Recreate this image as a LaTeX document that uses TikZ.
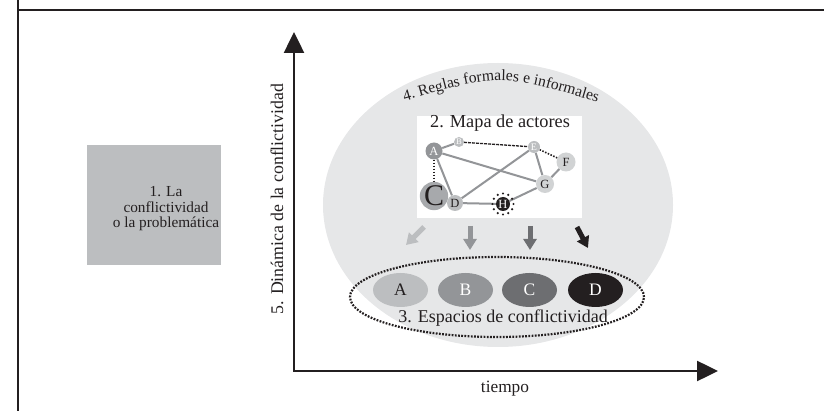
\documentclass[tikz,border=0pt]{standalone}
\usepackage{fontspec}
\setmainfont{Liberation Serif}
\usetikzlibrary{arrows.meta,decorations.text,shapes.geometric}
\definecolor{txt}{HTML}{231F20}
\definecolor{g1}{HTML}{BCBEC0}
\definecolor{g2}{HTML}{939598}
\definecolor{g3}{HTML}{6D6E71}
\definecolor{g0}{HTML}{D1D3D4}
\definecolor{gC}{HTML}{A7A9AC}
\definecolor{bgell}{HTML}{E6E7E8}
\pgfdeclarelayer{bg}
\pgfdeclarelayer{edges}
\pgfsetlayers{bg,edges,main}
\tikzset{
  frameline/.style={line width=1.5pt, draw=txt},
  axisline/.style={line width=2.5pt, draw=txt, line join=miter,
    {Triangle[width=20pt,length=21pt]}-{Triangle[width=20pt,length=21pt]}},
  lbl/.style={text=txt, font=\fontsize{16.2}{16}\selectfont, inner sep=0pt},
  actor/.style={circle, inner sep=0pt, text=txt, font=\fontsize{12.5}{13}\selectfont},
  link/.style={draw=g2, line width=2pt},
  blockarrow/.style={line width=5pt, -{Triangle[width=13pt,length=11pt]}},
  spacenode/.style={ellipse, minimum width=55pt, minimum height=34pt, inner sep=0pt,
    font=\fontsize{17.5}{18}\selectfont},
}
\begin{document}
\begin{tikzpicture}[x=1pt,y=-1pt]
\useasboundingbox (0,0) rectangle (824,411);
% frame
\draw[frameline] (18,0) -- (18,411);
\draw[frameline] (18,10) -- (824,10);
% box 1
\node[fill=g1, minimum width=134pt, minimum height=120pt, inner sep=0pt] (problem) at (154,205) {};
\node[lbl, align=center, font=\fontsize{15.3}{15.5}\selectfont] (problemtxt) at (166,209) {1. La\\conflictividad\\o la problemática};
% axes
\coordinate (origin) at (294,371);
\coordinate (ytip) at (294,32);
\coordinate (xtip) at (718,371);
\draw[axisline] (ytip) -- (origin) -- (xtip);
\node[lbl, rotate=90, anchor=base, font=\fontsize{17.8}{18}\selectfont] (ylab) at (283,199) {5. Dinámica de la conflictividad};
\node[lbl, anchor=base, font=\fontsize{17.3}{18}\selectfont] (time) at (505,392) {tiempo};
% background shapes
\begin{pgfonlayer}{bg}
\node[ellipse, fill=bgell, minimum width=350pt, minimum height=284pt, inner sep=0pt] (rules) at (498,205) {};
\node[fill=white, minimum width=165pt, minimum height=102pt, inner sep=0pt] (mapbox) at (499.5,167) {};
\end{pgfonlayer}
\path[decorate, decoration={text along path, text color=txt,
  text={|\fontsize{15.6}{17}\selectfont|4. Reglas formales e informales}, text align=center}]
  (398,103) .. controls (501,73) .. (604,104);
% map of actors
\node[lbl, anchor=base, font=\fontsize{18.3}{20}\selectfont] (maptitle) at (500,128) {2. Mapa de actores};
\node[actor, fill=g2, text=white, minimum size=17pt] (nA) at (434,151) {A};
\node[actor, fill=g1, text=white, minimum size=10pt, font=\fontsize{8.5}{9}\selectfont] (nB) at (459,142) {B};
\node[actor, fill=g1, text=white, minimum size=12pt, font=\fontsize{10}{10}\selectfont] (nE) at (534,147) {E};
\node[actor, fill=g0, minimum size=19pt] (nF) at (566,162) {F};
\node[actor, fill=g0, minimum size=18pt] (nG) at (545,184) {G};
\node[actor, fill=gC, minimum size=26pt, font=\fontsize{30}{30}\selectfont] (nC) at (434,196) {C};
\node[actor, fill=g1, minimum size=16pt] (nD) at (455,203) {D};
\node[actor, fill=txt, text=white, minimum size=14pt] (nH) at (503,204) {H};
\foreach \a in {0,30,...,330} \fill[txt] (nH.center) ++(\a:10.5pt) circle (1.2pt);
\begin{pgfonlayer}{edges}
\draw[link] (nA) -- (nB);
\draw[link] (nA) -- (nD);
\draw[link] (nA) -- (nG);
\draw[link] (nD) -- (nE);
\draw[link] (nE) -- (nG);
\draw[link] (nG) -- (nF);
\draw[link] (nD) -- (nH);
\draw[link] (nH) -- (nG);
\draw[txt, line width=1.3pt, dash pattern=on 3pt off 1pt] (nB) -- (nE);
\draw[txt, line width=1.6pt, dash pattern=on 1.5pt off 1.5pt] (nE) -- (nF);
\draw[txt, line width=2.6pt, dash pattern=on 1.5pt off 1.5pt] (nA) -- (nC);
\end{pgfonlayer}
% arrows
\coordinate (a1s) at (424,227); \coordinate (a1e) at (406,245);
\coordinate (a2s) at (470,226); \coordinate (a2e) at (470,250);
\coordinate (a3s) at (530,226); \coordinate (a3e) at (530,250);
\coordinate (a4s) at (577,227); \coordinate (a4e) at (588,248);
\draw[blockarrow, g1] (a1s) -- (a1e);
\draw[blockarrow, g2] (a2s) -- (a2e);
\draw[blockarrow, g3] (a3s) -- (a3e);
\draw[blockarrow, txt] (a4s) -- (a4e);
% spaces
\node[ellipse, draw=txt, line width=2.2pt, dash pattern=on 1.8pt off 1.4pt,
  minimum width=294pt, minimum height=80pt, inner sep=0pt] (spaces) at (497,297) {};
\node[spacenode, fill=g1, text=txt] (sA) at (400.5,290) {A};
\node[spacenode, fill=g2, text=white] (sB) at (465.5,290) {B};
\node[spacenode, fill=g3, text=white] (sC) at (529.5,290) {C};
\node[spacenode, fill=txt, text=white] (sD) at (595.5,290) {D};
\node[lbl, anchor=base, font=\fontsize{18}{18}\selectfont] (spacelbl) at (503,323) {3. Espacios de conflictividad};
\end{tikzpicture}
\end{document}
